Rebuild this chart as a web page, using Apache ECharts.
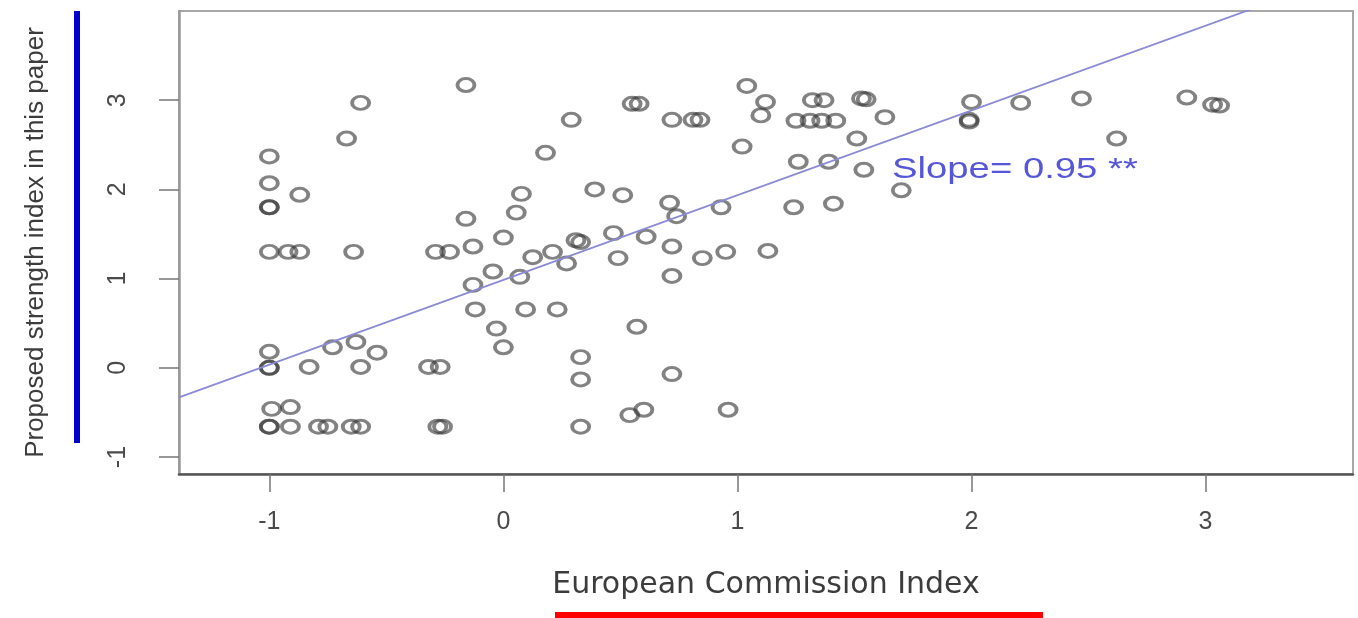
<!DOCTYPE html>
<html><head><meta charset="utf-8">
<script src="https://cdn.jsdelivr.net/npm/echarts@6/dist/echarts.min.js"></script>
<style>html,body{margin:0;padding:0;background:#fff;}#chart{width:1358px;height:618px;}</style>
</head><body><div id="chart"></div>
<script>
// European Commission Index (x) for each country/observation
const ecIndex = [
  -1.00,-1.00,-1.00,-1.00,-0.87,-1.00,-0.92,-0.87,-0.64,-0.29,-0.23,-0.61,-0.67,-0.16,
  -1.00,-1.00,-1.00,-0.83,-0.73,-0.63,-0.54,-0.61,-0.32,-0.27,
  -0.99,-0.91,-1.00,-1.00,-0.91,-0.79,-0.75,-0.65,-0.61,-0.28,-0.26,
  -0.13,-0.045,0.07,-0.12,0.095,0.23,-0.03,0.00,-0.16,0.00,-0.13,0.125,0.21,0.27,0.055,0.077,
  0.18,0.29,0.31,0.33,0.39,0.51,0.47,0.61,0.49,0.72,0.71,0.74,0.72,0.85,0.95,0.93,1.13,
  0.55,0.58,0.72,0.81,0.84,1.04,1.12,1.10,1.02,1.32,1.37,1.53,1.55,1.25,1.31,1.36,1.42,
  1.63,1.51,1.26,1.39,1.54,1.24,1.41,1.70,2.00,1.99,1.99,2.21,2.47,2.92,3.03,3.06,2.62,
  0.57,0.33,0.33,0.72,0.54,0.60,0.96,0.33
];
// Proposed strength index (y)
const strengthIndex = [
  2.37,2.07,1.80,1.80,1.94,1.30,1.30,1.30,1.30,1.30,1.30,2.97,2.57,3.17,
  0.18,0.00,0.00,0.01,0.23,0.29,0.17,0.01,0.01,0.01,
  -0.46,-0.44,-0.66,-0.66,-0.66,-0.66,-0.66,-0.66,-0.66,-0.66,-0.66,
  0.93,1.08,1.02,0.655,0.655,0.655,0.44,0.23,1.67,1.46,1.36,1.24,1.30,1.17,1.74,1.95,
  2.41,2.78,1.43,1.41,2.00,1.935,1.51,1.47,1.23,1.36,1.85,1.70,1.03,1.23,1.30,1.80,1.31,
  2.96,2.96,2.78,2.78,2.78,3.16,2.98,2.83,2.48,3.00,3.00,3.02,3.01,2.77,2.77,2.77,2.77,
  2.81,2.57,2.31,2.31,2.22,1.80,1.84,1.99,2.98,2.78,2.76,2.97,3.02,3.03,2.95,2.94,2.57,
  0.46,0.12,-0.13,-0.07,-0.53,-0.47,-0.47,-0.66
];
const xTicks = [-1, 0, 1, 2, 3];
const yTicks = [-1, 0, 1, 2, 3];
const xRange = [-1.386, 3.63];
const yRange = [-1.19, 4.0];
const fitIntercept = 0.985;
const fitSlope = 0.95;
const slopeText = 'Slope= 0.95 **';
const xTitle = 'European Commission Index';
const yTitle = 'Proposed strength index in this paper';

const points = ecIndex.map((x, i) => [x, strengthIndex[i]]);
const fitLine = xRange.map(x => [x, fitIntercept + fitSlope * x]);

const chart = echarts.init(document.getElementById('chart'), null, {renderer: 'canvas'});
const axisText = {color: '#4a4a4a', fontSize: 25, fontFamily: 'Liberation Sans'};
chart.setOption({
  animation: false,
  backgroundColor: '#ffffff',
  grid: {left: 179, top: 11, right: 5, bottom: 144, show: true, borderColor: '#a8a8a8', borderWidth: 2, containLabel: false, outerBoundsMode: 'none'},
  xAxis: {
    type: 'value', min: xRange[0], max: xRange[1],
    name: xTitle, nameLocation: 'middle', nameGap: 96,
    nameTextStyle: {color: '#3c3c3c', fontSize: 30, fontFamily: 'DejaVu Sans'},
    axisLine: {show: true, onZero: false, lineStyle: {color: '#555', width: 2.5}},
    axisTick: {show: true, length: 18, customValues: xTicks, lineStyle: {color: '#777', width: 1.5}},
    axisLabel: {show: true, customValues: xTicks, margin: 36, ...axisText, formatter: v => String(v)},
    splitLine: {show: false}
  },
  yAxis: {
    type: 'value', min: yRange[0], max: yRange[1],
    name: yTitle, nameLocation: 'middle', nameGap: 130,
    nameTextStyle: {color: '#3c3c3c', fontSize: 26, fontFamily: 'Liberation Sans'},
    axisLine: {show: true, onZero: false, lineStyle: {color: '#999', width: 2.5}},
    axisTick: {show: true, length: 20, customValues: yTicks, lineStyle: {color: '#777', width: 1.5}},
    axisLabel: {show: true, customValues: yTicks, rotate: 90, margin: 48, ...axisText, formatter: v => String(v)},
    splitLine: {show: false}
  },
  series: [
    {
      type: 'scatter', data: points,
      symbol: 'path://M0,10A10,10,0,1,1,20,10A10,10,0,1,1,0,10Z',
      symbolSize: [17, 13],
      itemStyle: {color: 'rgba(255,255,255,0)', borderColor: 'rgba(55,55,55,0.78)', borderWidth: 3.4},
      emphasis: {disabled: true}, z: 2
    },
    {
      type: 'line', data: fitLine, symbol: 'none', clip: true,
      lineStyle: {color: '#8a8ad6', width: 1.8}, z: 3, silent: true
    }
  ],
  graphic: [
    {type: 'text', x: 892, y: 170, scaleX: 1.32, z: 10,
     style: {text: slopeText, fontSize: 29, fontFamily: 'Liberation Sans', fill: '#5656d8', textVerticalAlign: 'middle', verticalAlign: 'middle', textAlign: 'left'}},
    {type: 'rect', shape: {x: 74, y: 11, width: 6, height: 432}, style: {fill: '#0000cd'}},
    {type: 'rect', shape: {x: 555, y: 612, width: 488, height: 6}, style: {fill: '#ff0000'}}
  ]
});
</script>
</body></html>
